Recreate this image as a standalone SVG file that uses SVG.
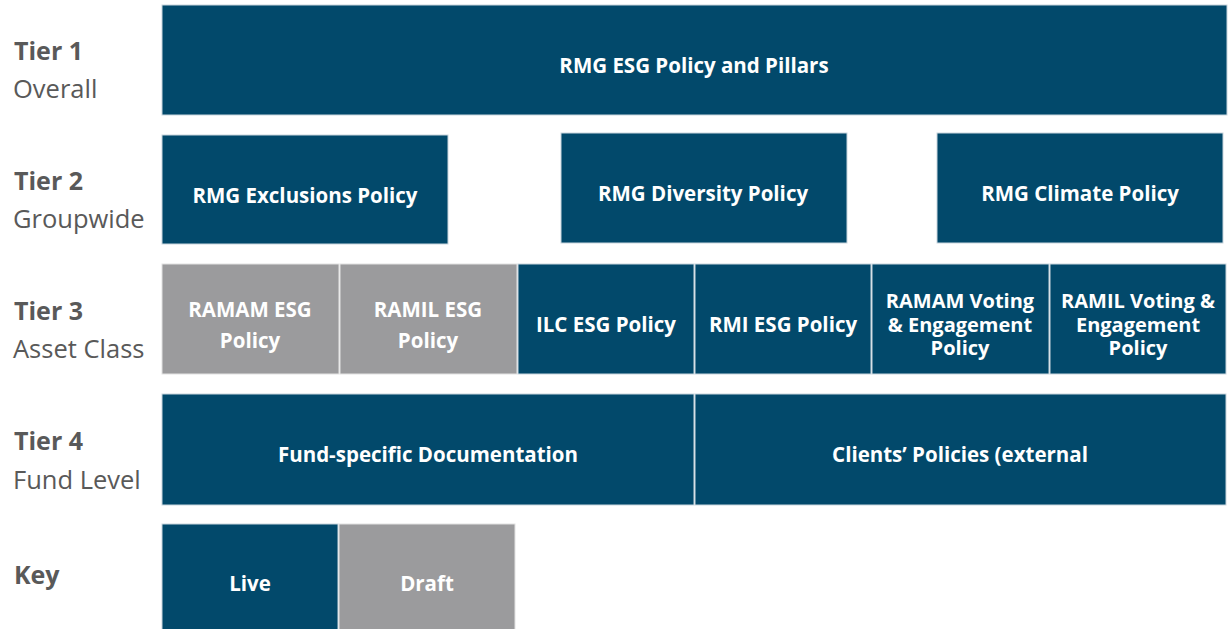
<svg xmlns="http://www.w3.org/2000/svg" width="1230" height="629" viewBox="0 0 1230 629">
  <style>
    .live { fill: #02496B; stroke: #c9d6de; stroke-width: 1; }
    .draft { fill: #9B9B9D; stroke: #e2e2e2; stroke-width: 1; }
    .bt { font-family: "Open Sans", Lato, "Liberation Sans", sans-serif; font-weight: bold; font-size: 20.5px; fill: #ffffff; text-anchor: middle; }
    .bt3 { font-size: 20px; }
    .tier { font-family: "Open Sans", Lato, "Liberation Sans", sans-serif; font-weight: bold; font-size: 25px; fill: #595959; }
    .sub { font-family: "Open Sans", Lato, "Liberation Sans", sans-serif; font-size: 25.5px; fill: #595959; }
  </style>
  <rect width="1230" height="629" fill="#ffffff"/>

  <!-- row labels -->
  <g id="labels">
    <text class="tier" x="14" y="60">Tier 1</text>
    <text class="sub" x="13" y="98">Overall</text>
    <text class="tier" x="14" y="190">Tier 2</text>
    <text class="sub" x="13" y="228">Groupwide</text>
    <text class="tier" x="14" y="320">Tier 3</text>
    <text class="sub" x="13" y="358">Asset Class</text>
    <text class="tier" x="14" y="450">Tier 4</text>
    <text class="sub" x="13" y="489">Fund Level</text>
    <text class="tier" x="14" y="584">Key</text>
  </g>

  <!-- tier 1 -->
  <g id="esg-policy">
    <rect class="live" x="162" y="5" width="1065" height="110"/>
    <text class="bt" x="694" y="73">RMG ESG Policy and Pillars</text>
  </g>

  <!-- tier 2 -->
  <g id="exclusions">
    <rect class="live" x="162" y="135" width="286" height="109"/>
    <text class="bt" x="305" y="203">RMG Exclusions Policy</text>
  </g>
  <g id="diversity">
    <rect class="live" x="561" y="133" width="286" height="110"/>
    <text class="bt" x="703" y="201">RMG Diversity Policy</text>
  </g>
  <g id="climate">
    <rect class="live" x="937" y="133" width="286" height="110"/>
    <text class="bt" x="1080" y="201">RMG Climate Policy</text>
  </g>

  <!-- tier 3 -->
  <g id="ramam-esg">
    <rect class="draft" x="162" y="264" width="177" height="110"/>
    <text class="bt" x="250" y="317">RAMAM ESG</text>
    <text class="bt" x="250" y="348">Policy</text>
  </g>
  <g id="ramil-esg">
    <rect class="draft" x="340" y="264" width="177" height="110"/>
    <text class="bt" x="428" y="317">RAMIL ESG</text>
    <text class="bt" x="428" y="348">Policy</text>
  </g>
  <g id="ilc-esg">
    <rect class="live" x="518" y="264" width="176" height="110"/>
    <text class="bt" x="606" y="332">ILC ESG Policy</text>
  </g>
  <g id="rmi-esg">
    <rect class="live" x="695" y="264" width="176" height="110"/>
    <text class="bt" x="783" y="332">RMI ESG Policy</text>
  </g>
  <g id="ramam-voting">
    <rect class="live" x="872" y="264" width="177" height="110"/>
    <text class="bt bt3" x="960" y="308">RAMAM Voting</text>
    <text class="bt bt3" x="960" y="332">&amp; Engagement</text>
    <text class="bt bt3" x="960" y="355">Policy</text>
  </g>
  <g id="ramil-voting">
    <rect class="live" x="1050" y="264" width="176" height="110"/>
    <text class="bt bt3" x="1138" y="308">RAMIL Voting &amp;</text>
    <text class="bt bt3" x="1138" y="332">Engagement</text>
    <text class="bt bt3" x="1138" y="355">Policy</text>
  </g>

  <!-- tier 4 -->
  <g id="fund-docs">
    <rect class="live" x="162" y="394" width="532" height="111"/>
    <text class="bt" x="428" y="462">Fund-specific Documentation</text>
  </g>
  <g id="client-policies">
    <rect class="live" x="695" y="394" width="531" height="111"/>
    <text class="bt" x="960" y="462">Clients’ Policies (external</text>
  </g>

  <!-- key -->
  <g id="key-live">
    <rect class="live" x="162" y="524" width="176" height="110"/>
    <text class="bt" x="250" y="591">Live</text>
  </g>
  <g id="key-draft">
    <rect class="draft" x="339" y="524" width="176" height="110"/>
    <text class="bt" x="427" y="591">Draft</text>
  </g>

  <g id="connectors"/>
</svg>
